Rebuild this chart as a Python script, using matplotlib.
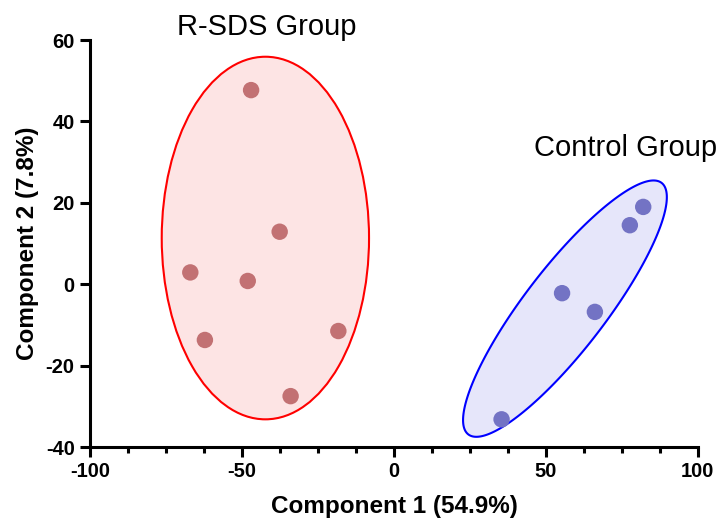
import numpy as np
import matplotlib
matplotlib.use("Agg")
import matplotlib.pyplot as plt
from matplotlib.patches import Ellipse
from matplotlib.ticker import MultipleLocator

plt.rcParams['font.family'] = ['Liberation Sans', 'DejaVu Sans']
plt.rcParams['axes.unicode_minus'] = False

# PCA scores
rsds_x = [-47.0, -37.6, -67.0, -48.1, -18.3, -62.2, -34.0]
rsds_y = [47.7, 12.9, 2.9, 0.8, -11.5, -13.7, -27.5]
ctrl_x = [82.0, 77.6, 55.3, 66.1, 35.4]
ctrl_y = [19.0, 14.5, -2.2, -6.8, -33.2]

group_names = ['R-SDS Group', 'Control Group']
xlabel = 'Component 1 (54.9%)'
ylabel = 'Component 2 (7.8%)'

fig = plt.figure(figsize=(7.24, 5.27), dpi=100)
ax = fig.add_axes([0.1243, 0.1518, 0.8397, 0.7722])

# R-SDS ellipse (axis aligned)
ax.add_patch(Ellipse((-42.3, 11.35), 68.2, 89.1, facecolor='#fde4e4',
                     edgecolor='#ff0000', linewidth=1.5, zorder=1))

# Control ellipse (tilted) - drawn from centre and two half-axis vectors
t = np.linspace(0, 2 * np.pi, 300)
cx, cy = 56.25, -6.0
ex = cx + 31.8 * np.cos(t) - 10.6 * np.sin(t)
ey = cy + 30.9 * np.cos(t) + 6.1 * np.sin(t)
ax.fill(ex, ey, facecolor='#e6e6fa', edgecolor='#0000ff', linewidth=1.5, zorder=1)

ax.scatter(rsds_x, rsds_y, s=140, color='#c27173', edgecolors='none', zorder=3)
ax.scatter(ctrl_x, ctrl_y, s=140, color='#7373c4', edgecolors='none', zorder=3)

ax.text(-41.8, 63.2, group_names[0], fontsize=21, ha='center', va='center', clip_on=False)
ax.text(76.3, 33.5, group_names[1], fontsize=21, ha='center', va='center', clip_on=False)

ax.set_xlim(-100, 100)
ax.set_ylim(-40, 60)
ax.xaxis.set_major_locator(MultipleLocator(50))
ax.xaxis.set_minor_locator(MultipleLocator(12.5))
ax.yaxis.set_major_locator(MultipleLocator(20))

for s in ['top', 'right']:
    ax.spines[s].set_visible(False)
for s in ['left', 'bottom']:
    ax.spines[s].set_linewidth(2.2)

ax.tick_params(which='major', length=7, width=2.2, labelsize=14.5, pad=4)
ax.tick_params(which='minor', length=4.5, width=2.2)
for lab in ax.get_xticklabels() + ax.get_yticklabels():
    lab.set_fontweight('bold')

ax.set_xlabel(xlabel, fontsize=17.5, fontweight='bold', labelpad=10)
ax.set_ylabel(ylabel, fontsize=17.5, fontweight='bold', labelpad=5)

fig.savefig('out.png', dpi=100)
